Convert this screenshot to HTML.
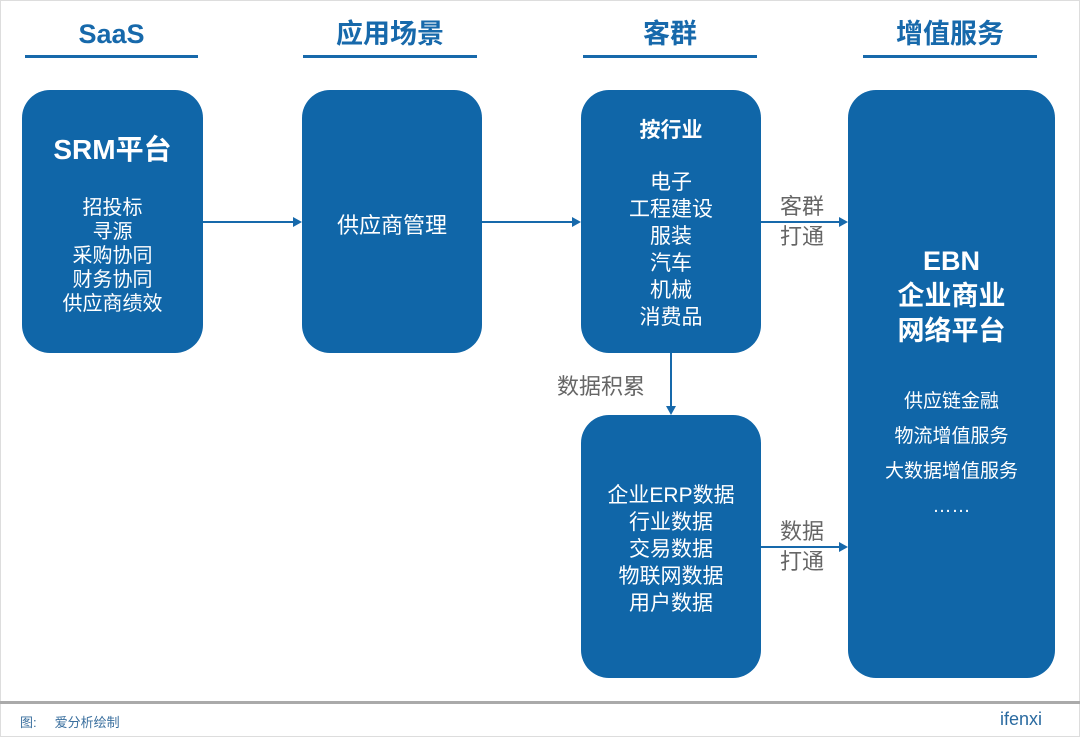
<!DOCTYPE html>
<html><head><meta charset="utf-8"><style>
body{margin:0;width:1080px;height:737px;background:#fff;position:relative;overflow:hidden;font-family:"Liberation Sans","Noto Sans CJK SC",sans-serif}
.h{position:absolute;top:14px;height:40px;text-align:center;font-size:27px;font-weight:bold;color:#1769ab;line-height:40px}
.u{position:absolute;top:55px;height:3px;background:#1769ab}
.b{position:absolute;background:#1066a8;border-radius:28px;color:#fff;text-align:center}
.t{position:absolute;color:#666;font-size:22px;line-height:30px}
.a{position:absolute;background:#1769ab}
</style></head><body>
<div style="position:absolute;left:0;top:0;width:1078px;height:735px;border:1px solid #ddd"></div>
<div class="h" style="left:25px;width:173px">SaaS</div><div class="u" style="left:25px;width:173px"></div>
<div class="h" style="left:303px;width:174px">应用场景</div><div class="u" style="left:303px;width:174px"></div>
<div class="h" style="left:583px;width:174px">客群</div><div class="u" style="left:583px;width:174px"></div>
<div class="h" style="left:863px;width:174px">增值服务</div><div class="u" style="left:863px;width:174px"></div>

<div class="b" style="left:22px;top:90px;width:181px;height:263px">
<div style="margin-top:38px;font-size:28px;font-weight:bold">SRM平台</div>
<div style="margin-top:28px;font-size:20px;line-height:24px">招投标<br>寻源<br>采购协同<br>财务协同<br>供应商绩效</div></div>
<div class="b" style="left:302px;top:90px;width:180px;height:263px"><div style="margin-top:118px;font-size:22px">供应商管理</div></div>
<div class="b" style="left:581px;top:90px;width:180px;height:263px">
<div style="margin-top:24px;font-size:21px;font-weight:bold">按行业</div>
<div style="margin-top:25px;font-size:21px;line-height:27px">电子<br>工程建设<br>服装<br>汽车<br>机械<br>消费品</div></div>
<div class="b" style="left:581px;top:415px;width:180px;height:263px">
<div style="margin-top:67px;font-size:21px;line-height:27px">企业ERP数据<br>行业数据<br>交易数据<br>物联网数据<br>用户数据</div></div>
<div class="b" style="left:848px;top:90px;width:207px;height:588px">
<div style="margin-top:154px;font-size:27px;font-weight:bold;line-height:35px">EBN<br>企业商业<br>网络平台</div>
<div style="margin-top:35px;font-size:19px;line-height:35px">供应链金融<br>物流增值服务<br>大数据增值服务<br>……</div></div>

<div class="a" style="left:203px;top:221px;width:92px;height:2px"></div>
<svg style="position:absolute;left:293px;top:217px" width="10" height="10"><polygon points="0,0 9,5 0,10" fill="#1769ab"/></svg>
<div class="a" style="left:482px;top:221px;width:92px;height:2px"></div>
<svg style="position:absolute;left:572px;top:217px" width="10" height="10"><polygon points="0,0 9,5 0,10" fill="#1769ab"/></svg>
<div class="a" style="left:761px;top:221px;width:80px;height:2px"></div>
<svg style="position:absolute;left:839px;top:217px" width="10" height="10"><polygon points="0,0 9,5 0,10" fill="#1769ab"/></svg>
<div class="a" style="left:761px;top:546px;width:80px;height:2px"></div>
<svg style="position:absolute;left:839px;top:542px" width="10" height="10"><polygon points="0,0 9,5 0,10" fill="#1769ab"/></svg>
<div class="a" style="left:670px;top:353px;width:2px;height:55px"></div>
<svg style="position:absolute;left:666px;top:406px" width="10" height="10"><polygon points="0,0 10,0 5,9" fill="#1769ab"/></svg>

<div class="t" style="left:780px;top:192px">客群<br>打通</div>
<div class="t" style="left:780px;top:517px">数据<br>打通</div>
<div class="t" style="left:557px;top:372px">数据积累</div>

<div style="position:absolute;left:0;top:701px;width:1080px;height:3px;background:#aaa"></div>
<div style="position:absolute;left:20px;top:712px;font-size:13px;color:#3a6f9e">图:&nbsp;&nbsp;&nbsp;&nbsp;&nbsp;爱分析绘制</div>
<div style="position:absolute;left:1000px;top:709px;font-size:18px;color:#2a6aa0">ifenxi</div>
</body></html>
